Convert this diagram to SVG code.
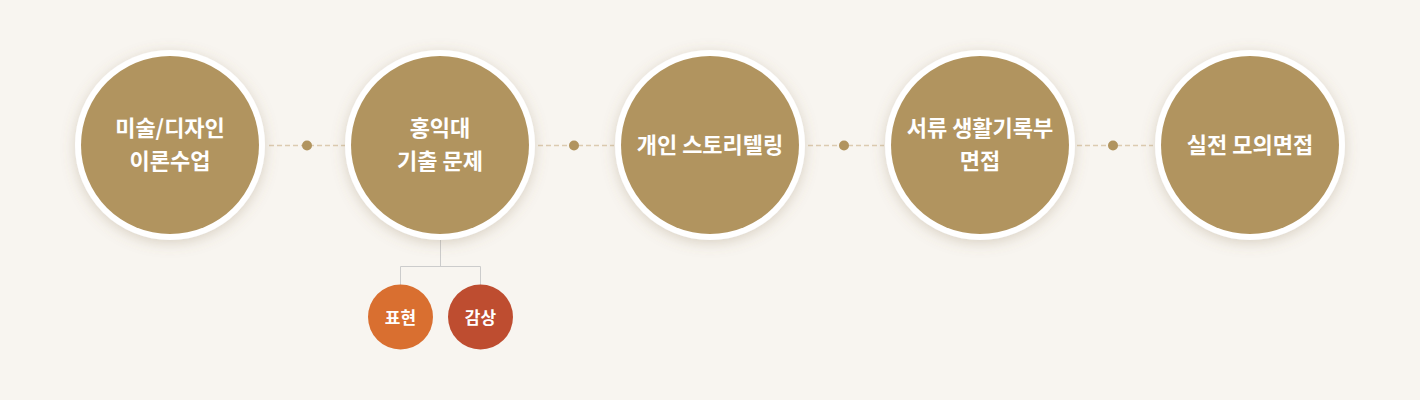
<svg xmlns="http://www.w3.org/2000/svg" width="1420" height="400" viewBox="0 0 1420 400">
<defs>
<filter id="sh" x="-30%" y="-30%" width="160%" height="160%">
<feGaussianBlur in="SourceAlpha" stdDeviation="7"/>
<feOffset dx="0" dy="3" result="b"/>
<feFlood flood-color="#8a7550" flood-opacity="0.28"/>
<feComposite in2="b" operator="in"/>
<feMerge><feMergeNode/><feMergeNode in="SourceGraphic"/></feMerge>
</filter>
<style>
.ring{fill:#ffffff;}
.core{fill:#b1945f;}
.t{font-family:"Noto Sans CJK KR","Noto Sans",sans-serif;font-weight:700;font-size:22px;fill:#ffffff;text-anchor:middle;}
.ts{font-family:"Noto Sans CJK KR","Noto Sans",sans-serif;font-weight:700;font-size:17px;fill:#ffffff;text-anchor:middle;}
.dash{stroke:#dccbb0;stroke-width:1.5;stroke-dasharray:5 3;fill:none;}
.dot{fill:#b1945f;}
.tree{stroke:#cccccc;stroke-width:1;fill:none;}
</style>
</defs>
<rect width="1420" height="400" fill="#f8f5f0"/>
<g id="connectors">
<line class="dash" x1="269" y1="145.5" x2="345" y2="145.5"/>
<circle class="dot" cx="307" cy="145.5" r="5"/>
<line class="dash" x1="538" y1="145.5" x2="614" y2="145.5"/>
<circle class="dot" cx="574" cy="145.5" r="5"/>
<line class="dash" x1="808" y1="145.5" x2="884" y2="145.5"/>
<circle class="dot" cx="844" cy="145.5" r="5"/>
<line class="dash" x1="1077" y1="145.5" x2="1153" y2="145.5"/>
<circle class="dot" cx="1113" cy="145.5" r="5"/>
<path class="tree" d="M440.5 239 V266.5 M400.5 285 V266.5 H480.5 V285"/>
</g>
<g id="node1">
<circle class="ring" cx="170" cy="145" r="95" filter="url(#sh)"/>
<circle class="core" cx="170" cy="145" r="89"/>
<text class="t" x="170" y="136">미술/디자인</text>
<text class="t" x="170" y="169">이론수업</text>
</g>
<g id="node2">
<circle class="ring" cx="440" cy="145" r="95" filter="url(#sh)"/>
<circle class="core" cx="440" cy="145" r="89"/>
<text class="t" x="440" y="136">홍익대</text>
<text class="t" x="440" y="169">기출 문제</text>
</g>
<g id="node3">
<circle class="ring" cx="710" cy="145" r="95" filter="url(#sh)"/>
<circle class="core" cx="710" cy="145" r="89"/>
<text class="t" x="710" y="152.5">개인 스토리텔링</text>
</g>
<g id="node4">
<circle class="ring" cx="980" cy="145" r="95" filter="url(#sh)"/>
<circle class="core" cx="980" cy="145" r="89"/>
<text class="t" x="980" y="136">서류 생활기록부</text>
<text class="t" x="980" y="169">면접</text>
</g>
<g id="node5">
<circle class="ring" cx="1250" cy="145" r="95" filter="url(#sh)"/>
<circle class="core" cx="1250" cy="145" r="89"/>
<text class="t" x="1250" y="152.5">실전 모의면접</text>
</g>
<g id="node6">
<circle cx="400.5" cy="317" r="32.5" fill="#d96f30"/>
<text class="ts" x="400.5" y="324">표현</text>
</g>
<g id="node7">
<circle cx="480.5" cy="317" r="32.5" fill="#be4d30"/>
<text class="ts" x="480.5" y="324">감상</text>
</g>
</svg>
